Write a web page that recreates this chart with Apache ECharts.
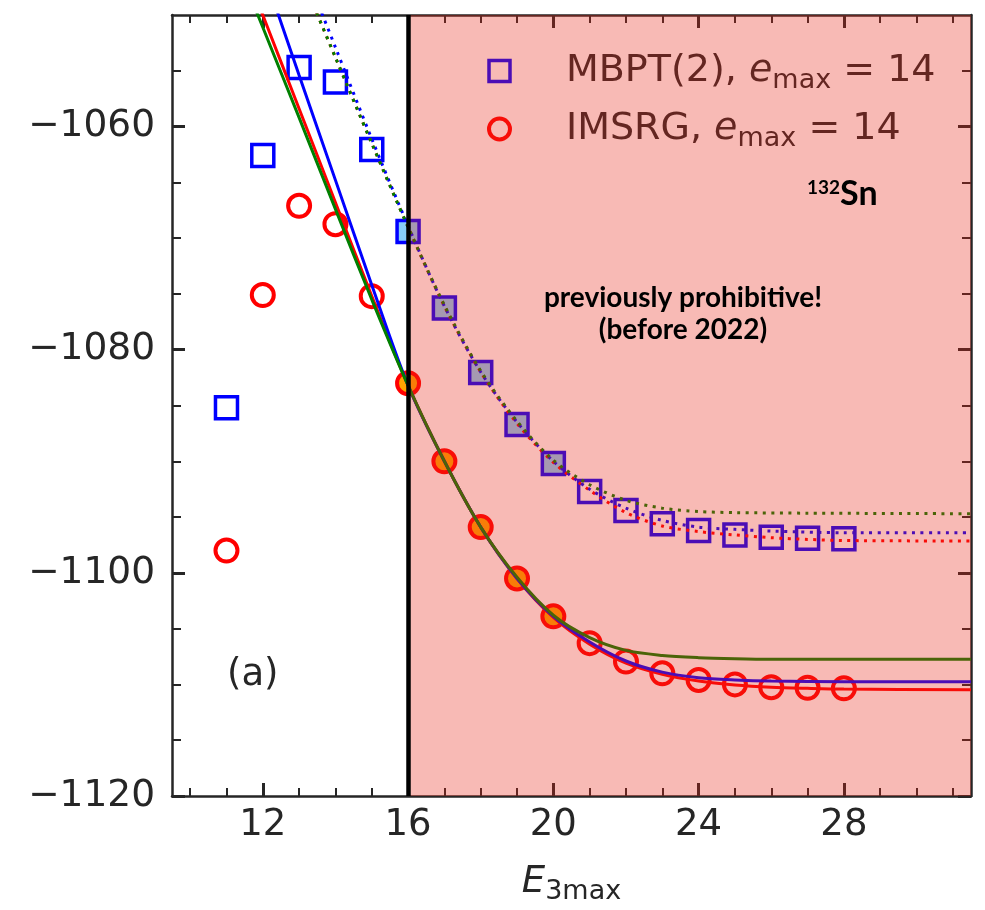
<!DOCTYPE html>
<html>
<head>
<meta charset="utf-8">
<script src="https://cdn.jsdelivr.net/npm/echarts@6/dist/echarts.min.js"></script>
<style>html,body{margin:0;padding:0;background:#fff;}#c{width:985px;height:910px;}</style>
</head>
<body>
<div id="c"></div>
<script>
// ---- data ----
const e3max = [11,12,13,14,15,16,17,18,19,20,21,22,23,24,25,26,27,28];
const mbpt  = [-1085.2,-1062.6,-1054.7,-1056.0,-1062.05,-1069.4,-1076.25,-1082.05,-1086.7,-1090.2,-1092.7,-1094.4,-1095.6,-1096.2,-1096.6,-1096.8,-1096.9,-1096.95];
const imsrg = [-1098.0,-1075.1,-1067.1,-1068.75,-1075.2,-1083.0,-1090.0,-1095.9,-1100.5,-1103.9,-1106.3,-1107.95,-1109.0,-1109.6,-1110.0,-1110.25,-1110.3,-1110.35];

// extrapolation curves (IMSRG: solid, MBPT: dotted)
const fitImsrgRed   = [[11.8,-1048.3],[12,-1050],[13,-1058.4],[14,-1066.8],[15,-1075.2],[16,-1083.2],[17,-1090.0],[18,-1095.9],[19,-1100.5],[20,-1104.0],[21,-1106.4],[22,-1108.1],[23,-1109.1],[24,-1109.7],[25,-1110.05],[26,-1110.25],[27,-1110.35],[28,-1110.42],[31.5,-1110.47]];
const fitImsrgBlue  = [[12.2,-1047.8],[13,-1055.4],[14,-1064.8],[15,-1074.2],[16,-1083.2],[17,-1090.0],[18,-1095.9],[19,-1100.5],[20,-1103.9],[21,-1106.2],[22,-1107.9],[23,-1108.9],[24,-1109.4],[25,-1109.6],[26,-1109.7],[28,-1109.75],[31.5,-1109.75]];
const fitImsrgGreen = [[11.6,-1047.9],[12,-1051.1],[13,-1059.2],[14,-1067.4],[15,-1075.5],[16,-1083.2],[17,-1090.0],[18,-1095.9],[19,-1100.4],[20,-1103.8],[21,-1105.8],[22,-1106.95],[23,-1107.4],[24,-1107.6],[25,-1107.7],[26,-1107.75],[31.5,-1107.75]];
const fitMbptRed    = [[13.3,-1048.4],[14,-1053.8],[15,-1061.5],[16,-1069.0],[17,-1076.1],[18,-1082.0],[19,-1086.6],[20,-1090.1],[21,-1092.6],[22,-1094.6],[23,-1095.8],[24,-1096.3],[25,-1096.6],[26,-1096.85],[27,-1097.0],[28,-1097.1],[31.5,-1097.15]];
const fitMbptBlue   = [[13.45,-1048.4],[14,-1052.9],[15,-1061.1],[16,-1068.9],[17,-1076.1],[18,-1082.0],[19,-1086.5],[20,-1090.0],[21,-1092.5],[22,-1094.2],[23,-1095.3],[24,-1095.9],[25,-1096.1],[26,-1096.25],[28,-1096.4],[31.5,-1096.4]];
const fitMbptGreen  = [[13.3,-1048.4],[14,-1053.8],[15,-1061.5],[16,-1069.0],[17,-1076.0],[18,-1081.9],[19,-1086.4],[20,-1089.9],[21,-1092.1],[22,-1093.5],[23,-1094.2],[24,-1094.5],[25,-1094.6],[27,-1094.65],[31.5,-1094.7]];

const xRange = [9.5, 31.5];
const yRange = [-1120, -1050];
const xMajor = [12,16,20,24,28];
const xMinor = [10,11,12,13,14,15,16,17,18,19,20,21,22,23,24,25,26,27,28,29,30,31];
const yMajor = [-1120,-1100,-1080,-1060];
const yMinor = [-1115,-1110,-1105,-1095,-1090,-1085,-1075,-1070,-1065,-1055];
const filledRange = [16, 20];
const prohibitiveFrom = 16;

const INK = '#262626';
const FONT = 'DejaVu Sans';

function xAx(pos, ticks, len, w, line, labels, extra) {
  return Object.assign({
    type: 'value', position: pos, min: xRange[0], max: xRange[1],
    axisLine: {show: line, onZero: false, lineStyle: {color: INK, width: 2.5}},
    axisTick: {show: true, inside: true, length: len, customValues: ticks, lineStyle: {color: INK, width: w}},
    axisLabel: labels ? {show: true, customValues: ticks, color: INK, fontSize: 37, fontFamily: FONT, margin: 11} : {show: false},
    splitLine: {show: false}
  }, extra || {});
}
function yAx(pos, ticks, len, w, line, labels) {
  return {
    type: 'value', position: pos, min: yRange[0], max: yRange[1],
    axisLine: {show: line, onZero: false, lineStyle: {color: INK, width: 2.5}},
    axisTick: {show: true, inside: true, length: len, customValues: ticks, lineStyle: {color: INK, width: w}},
    axisLabel: labels ? {show: true, customValues: ticks, color: INK, fontSize: 37.5, fontFamily: FONT, margin: 17,
      formatter: v => '\u2212' + Math.abs(v)} : {show: false},
    splitLine: {show: false}
  };
}

const sqData = e3max.map((x, i) => ({
  value: [x, mbpt[i]],
  itemStyle: {color: (x >= filledRange[0] && x <= filledRange[1]) ? '#87cefa' : 'rgba(0,0,0,0)'}
}));
const ciData = e3max.map((x, i) => ({
  value: [x, imsrg[i]],
  itemStyle: {color: (x >= filledRange[0] && x <= filledRange[1]) ? '#ffa500' : 'rgba(0,0,0,0)'}
}));

function fitLine(name, data, color, dotted) {
  return {
    name: name, type: 'line', data: data, smooth: 0.3, symbol: 'none', clip: true,
    xAxisIndex: 0, yAxisIndex: 0, silent: true, z: 3,
    lineStyle: dotted ? {color: color, width: 3, type: [3, 5.5], cap: 'butt'} : {color: color, width: 3}
  };
}

const legendFmt = {
  'MBPT': '{p|MBPT(2), }{e|e}{s|max}{n| = 14}',
  'IMSRG': '{p|IMSRG, }{e|e}{s|max}{n| = 14}'
};

const chart = echarts.init(document.getElementById('c'), null, {renderer: 'canvas'});
chart.setOption({
  animation: false,
  backgroundColor: '#ffffff',
  grid: {left: 172, top: 15, right: 14, bottom: 111, containLabel: false},
  xAxis: [
    xAx('bottom', xMajor, 13, 3, true, true, {
      name: '{e|E}{s|3max}', nameLocation: 'middle', nameGap: 63,
      nameTextStyle: {rich: {
        e: {fontSize: 37, fontStyle: 'italic', fontFamily: FONT, color: INK, lineHeight: 46},
        s: {fontSize: 27, fontFamily: FONT, color: INK, verticalAlign: 'bottom'}
      }}
    }),
    xAx('bottom', xMinor, 8, 2, false, false),
    xAx('top', xMajor, 13, 3, true, false),
    xAx('top', xMinor, 8, 2, false, false)
  ],
  yAxis: [
    yAx('left', yMajor, 13, 3, true, true),
    yAx('left', yMinor, 9, 2, false, false),
    yAx('right', yMajor, 13, 3, true, false),
    yAx('right', yMinor, 9, 2, false, false)
  ],
  legend: {
    orient: 'vertical', left: 487, top: 52, padding: 0, itemGap: 16,
    itemWidth: 21, itemHeight: 21, selectedMode: false, z: 4,
    data: [
      {name: 'MBPT', icon: 'rect', itemStyle: {color: 'rgba(0,0,0,0)', borderColor: '#0000ff', borderWidth: 3.5}},
      {name: 'IMSRG', icon: 'circle', itemStyle: {color: 'rgba(0,0,0,0)', borderColor: '#ff0000', borderWidth: 4}}
    ],
    formatter: n => legendFmt[n],
    textStyle: {
      color: INK, fontFamily: FONT, fontSize: 38,
      rich: {
        p: {fontSize: 38, fontFamily: FONT, color: INK, padding: [0, 0, 0, 51], lineHeight: 46},
        n: {fontSize: 38, fontFamily: FONT, color: INK, lineHeight: 46},
        e: {fontSize: 38, fontFamily: FONT, fontStyle: 'italic', color: INK, lineHeight: 46},
        s: {fontSize: 27, fontFamily: FONT, color: INK, verticalAlign: 'bottom'}
      }
    }
  },
  series: [
    {
      name: 'MBPT', type: 'scatter', data: sqData, symbol: 'rect', symbolSize: 22, z: 2,
      itemStyle: {color: 'rgba(0,0,0,0)', borderColor: '#0000ff', borderWidth: 3.5, opacity: 1},
      markArea: {
        silent: true, z: 5,
        itemStyle: {color: 'rgba(233,39,24,0.32)', borderWidth: 0},
        data: [[{xAxis: prohibitiveFrom, yAxis: yRange[0]}, {xAxis: xRange[1], yAxis: yRange[1]}]]
      }
    },
    {
      name: 'IMSRG', type: 'scatter', data: ciData, symbol: 'circle', symbolSize: 22, z: 2,
      itemStyle: {color: 'rgba(0,0,0,0)', borderColor: '#ff0000', borderWidth: 4, opacity: 1},
      markLine: {
        silent: true, z: 6, symbol: ['none', 'none'], label: {show: false},
        lineStyle: {color: '#000000', width: 4.5, type: 'solid'},
        data: [{xAxis: prohibitiveFrom}]
      }
    },
    fitLine('mbptRed', fitMbptRed, '#ff0000', true),
    fitLine('mbptBlue', fitMbptBlue, '#0000ff', true),
    fitLine('mbptGreen', fitMbptGreen, '#008000', true),
    fitLine('imsrgRed', fitImsrgRed, '#ff0000', false),
    fitLine('imsrgBlue', fitImsrgBlue, '#0000ff', false),
    fitLine('imsrgGreen', fitImsrgGreen, '#008000', false)
  ],
  graphic: [
    {type: 'text', z: 100, x: 683, y: 298, style: {
      text: 'previously prohibitive!', align: 'center', verticalAlign: 'middle',
      font: 'bold 28px Lato', fill: '#000'}},
    {type: 'text', z: 100, x: 683, y: 330, style: {
      text: '(before 2022)', align: 'center', verticalAlign: 'middle',
      font: 'bold 28px Lato', fill: '#000'}},
    {type: 'text', z: 100, x: 807, y: 178, style: {
      text: '{a|132}{b|Sn}', fill: '#000',
      rich: {a: {fontSize: 19, fontFamily: 'Lato', fontWeight: 'bold', fill: '#000', verticalAlign: 'top', lineHeight: 32},
             b: {fontSize: 34, fontFamily: 'Lato', fontWeight: 'bold', fill: '#000', lineHeight: 32}}}},
    {type: 'text', z: 100, left: 227, top: 657, style: {
      text: '(a)', font: '37px "DejaVu Sans"', fill: INK}}
  ]
});
</script>
</body>
</html>
